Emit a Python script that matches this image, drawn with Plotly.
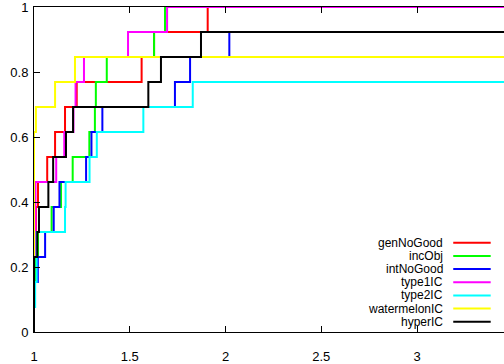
import plotly.graph_objects as go

# Performance profile: fraction of the 13 instances solved within a factor tau of the best time
N_INSTANCES = 13
TAU_MAX = 3.5

names = ["genNoGood", "incObj", "intNoGood", "type1IC", "type2IC", "watermelonIC", "hyperIC"]
colors = ["#ff0000", "#00ff00", "#0000ff", "#ff00ff", "#00ffff", "#ffff00", "#000000"]

tau_genNoGood = [1.0, 1.0, 1.01, 1.021, 1.069, 1.11, 1.162, 1.223, 1.562, 1.627, 1.907]
cnt_genNoGood = [0, 3, 5, 6, 7, 8, 9, 10, 11, 12, 13]

tau_incObj = [1.0, 1.0, 1.01, 1.021, 1.092, 1.141, 1.202, 1.289, 1.318, 1.323, 1.38, 1.627, 1.684]
cnt_incObj = [0, 2, 3, 4, 5, 6, 7, 8, 9, 10, 11, 12, 13]

tau_intNoGood = [1.0, 1.0, 1.02, 1.058, 1.103, 1.133, 1.272, 1.30, 1.357, 1.736, 1.815, 2.02]
cnt_intNoGood = [0, 2, 3, 4, 5, 6, 7, 8, 9, 10, 11, 12]

tau_type1IC = [1.0, 1.0, 1.008, 1.116, 1.158, 1.206, 1.217, 1.261, 1.491, 1.695]
cnt_type1IC = [0, 3, 6, 7, 8, 9, 10, 11, 12, 13]

tau_type2IC = [1.0, 1.0, 1.006, 1.014, 1.162, 1.165, 1.29, 1.328, 1.571, 1.829]
cnt_type2IC = [0, 1, 2, 4, 5, 6, 7, 8, 9, 10]

tau_watermelonIC = [1.0, 1.0, 1.01, 1.11, 1.214]
cnt_watermelonIC = [0, 8, 9, 10, 11]

tau_hyperIC = [1.0, 1.0, 1.017, 1.026, 1.075, 1.10, 1.167, 1.204, 1.597, 1.663, 1.872]
cnt_hyperIC = [0, 3, 4, 5, 6, 7, 8, 9, 10, 11, 12]

x_ticks = [1, 1.5, 2, 2.5, 3, 3.5]
x_tick_labels = ["1", "1.5", "2", "2.5", "3", "3.5"]
y_ticks = [0, 0.2, 0.4, 0.6, 0.8, 1]
y_tick_labels = ["0", "0.2", "0.4", "0.6", "0.8", "1"]

series = [
    (tau_genNoGood, cnt_genNoGood),
    (tau_incObj, cnt_incObj),
    (tau_intNoGood, cnt_intNoGood),
    (tau_type1IC, cnt_type1IC),
    (tau_type2IC, cnt_type2IC),
    (tau_watermelonIC, cnt_watermelonIC),
    (tau_hyperIC, cnt_hyperIC),
]

FONT = "Liberation Sans, Arial, Helvetica, sans-serif"
W, H = 504, 364
ML, MT, MB, MR = 34, 7, 16, 0
X_MAX = 1 + (W - ML) / 191.5

fig = go.Figure()
for name, color, (tau, cnt) in zip(names, colors, series):
    xs = list(tau) + [TAU_MAX]
    ys = [c / N_INSTANCES for c in cnt] + [cnt[-1] / N_INSTANCES]
    fig.add_trace(go.Scatter(
        x=xs, y=ys, mode="lines", name=name,
        line=dict(color=color, width=2, shape="hv"),
        showlegend=False,
    ))

# gnuplot-style key: right-aligned labels with the line sample to their right
key_text_x = 0.8723
key_line_x0, key_line_x1 = 0.892, 0.9717
key_top, key_step = 0.2745, 0.0405
for i, (name, color) in enumerate(zip(names, colors)):
    yk = key_top - i * key_step
    fig.add_annotation(
        x=key_text_x, y=yk, xref="paper", yref="paper", text=name,
        showarrow=False, xanchor="right", yanchor="middle", borderpad=0,
        font=dict(family=FONT, size=12, color="#000000"),
    )
    fig.add_shape(
        type="line", xref="paper", yref="paper",
        x0=key_line_x0, x1=key_line_x1, y0=yk, y1=yk,
        line=dict(color=color, width=2),
    )

tick_style = dict(
    showgrid=False, zeroline=False, ticks="inside", ticklen=6,
    tickcolor="#000000", tickwidth=1, ticklabeloverflow="allow",
    tickfont=dict(family=FONT, size=13, color="#000000"),
)

fig.update_layout(
    width=W, height=H,
    margin=dict(l=ML, r=MR, t=MT, b=MB, pad=0),
    paper_bgcolor="white", plot_bgcolor="white",
    xaxis=dict(range=[1, X_MAX], tickvals=x_ticks, ticktext=x_tick_labels,
               showline=True, linecolor="#000000", linewidth=1, mirror="ticks",
               ticklabelstandoff=12, **tick_style),
    yaxis=dict(range=[0, 1], tickvals=y_ticks, ticktext=y_tick_labels,
               showline=True, linecolor="#000000", linewidth=1, mirror=False,
               ticklabelstandoff=2, **tick_style),
    # right-hand ticks without a border line
    yaxis2=dict(range=[0, 1], tickvals=y_ticks, overlaying="y", side="right",
                showline=False, showticklabels=False, **tick_style),
    showlegend=False,
)

fig.write_html("out.html", config={"displayModeBar": False})
